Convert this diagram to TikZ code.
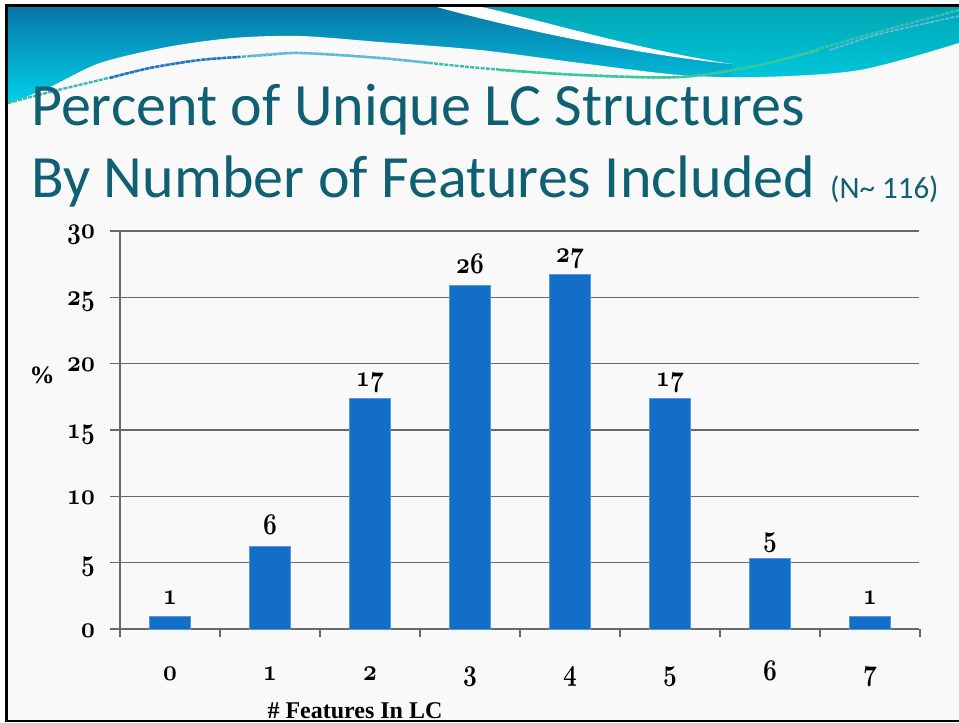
\documentclass[tikz,border=0pt]{standalone}
\usepackage{fontspec}
\newfontfamily\titlefont{Carlito}
\newfontfamily\labelfont{Liberation Serif}
\font\numfontraw=cmmib10 at 24pt
\newcommand\numtxt[1]{\scalebox{1.0}[1.25]{\numfontraw #1}}
\definecolor{titleteal}{RGB}{16,96,116}
\definecolor{barblue}{RGB}{18,110,198}
\definecolor{baredge}{RGB}{90,150,220}
\definecolor{axisgray}{RGB}{105,105,105}
\definecolor{slidebg}{RGB}{249,249,249}
\definecolor{bandtop}{RGB}{8,118,168}
\definecolor{bandbot}{RGB}{0,216,236}
\definecolor{tealtop}{RGB}{0,168,180}
\definecolor{tealmid}{RGB}{0,152,212}
\definecolor{tealbot}{RGB}{0,200,222}
\definecolor{sparkA}{RGB}{60,190,175}
\definecolor{sparkB}{RGB}{45,110,205}
\definecolor{sparkC}{RGB}{50,205,150}
\definecolor{sparkD}{RGB}{110,185,230}

\begin{document}
\begin{tikzpicture}[x=1pt,y=-1pt,
  gridline/.style={draw=axisgray,line width=1.4pt},
  databar/.style={fill=barblue,draw=baredge,line width=0.6pt},
  numlab/.style={anchor=base,inner sep=0pt},
  ylab/.style={anchor=base east,inner sep=0pt},
  titletext/.style={anchor=base west,inner sep=0pt,text=titleteal},
  spark/.style={line width=2.4pt,dash pattern=on 4pt off 1.2pt}]

\useasboundingbox (0,0) rectangle (959,723);
\fill[white] (0,0) rectangle (959,723);
\fill[slidebg] (6,6) rectangle (959,721);

% header band: left blue part
\shade[top color=bandtop,bottom color=bandbot] (8,7) rectangle (959,110);
% header band: teal part right of the white streak
\shade[top color=tealtop,middle color=tealmid,bottom color=tealbot]
  (482,7) -- (959,7) -- (959,82) -- (732,82) -- (732,64)
  .. controls (640,50) and (540,20) .. (482,7) -- cycle;
% white streak
\fill[white] (437,7) .. controls (520,30) and (640,55) .. (732,64)
  .. controls (640,50) and (540,20) .. (482,7) -- cycle;
% light slide area under the wave
\fill[slidebg] plot[smooth] coordinates {(8,104) (50,87) (100,63) (167,47)
  (233,38) (300,36) (380,42) (480,50) (580,63) (680,75) (760,77) (860,70) (959,43)}
  -- (959,721) -- (8,721) -- cycle;

% sparkle lines along the wave
\draw[spark,sparkA] plot[smooth] coordinates {(8,103) (50,92) (100,80) (150,68)
  (200,60) (267,55) (300,53) (380,58) (480,68) (580,75) (680,77) (760,65) (860,37) (959,10)};
\draw[spark,sparkB] plot[smooth] coordinates {(110,78) (150,68) (200,60) (240,57)};
\draw[spark,sparkD] plot[smooth] coordinates {(250,56) (300,53) (380,58) (430,63)};
\draw[spark,sparkC] plot[smooth] coordinates {(500,70) (580,75) (680,77) (760,65) (820,50)};
\draw[spark,sparkD,line width=1.6pt] plot[smooth] coordinates {(830,50) (880,34) (959,16)};

% frame
\draw[black,line width=3pt] (6.5,4) -- (6.5,721);
\draw[black,line width=3pt] (5,5.5) -- (959,5.5);
\draw[black,line width=2pt] (5,721) -- (959,721);

% title
\node[titletext,font=\titlefont\fontsize{60}{72}\selectfont] (t1) at (31,125)
  {Percent of Unique LC Structures};
\node[titletext,font=\titlefont\fontsize{60}{72}\selectfont] (t2) at (31,197)
  {By Number of Features Included};
\node[titletext,font=\titlefont\fontsize{31}{36}\selectfont] (tn) at (830,198)
  {(N\char`~\ 116)};

% grid lines and y labels
\foreach \v [count=\k from 0] in {0,5,10,15,20,25,30} {
  \pgfmathsetmacro\gy{629-13.267*\v}
  \draw[gridline] (110,\gy) -- (919,\gy);
  \node[ylab] (y\k) at (95,\gy+8) {\numtxt{\v}};
}
% y axis and x ticks
\draw[gridline] (120,231) -- (120,637);
\foreach \i in {1,...,8} {
  \draw[gridline] (120+100*\i,629) -- (120+100*\i,637);
}

% bars with value labels and category labels
\foreach \i/\v/\lab in {0/0.95/1,1/6.2/6,2/17.4/17,3/25.9/26,4/26.75/27,5/17.4/17,6/5.3/5,7/0.95/1} {
  \pgfmathsetmacro\top{629-13.267*\v}
  \fill[databar] (149.5+100*\i,629) rectangle (190.5+100*\i,\top);
  \node[numlab] (v\i) at (170+100*\i,\top-12) {\numtxt{\lab}};
  \node[numlab] (c\i) at (170+100*\i,680) {\numtxt{\i}};
}

% axis titles
\node[anchor=base,inner sep=0pt,font=\labelfont\fontsize{25}{29}\selectfont\bfseries] (pct) at (42,383) {\%};
\node[anchor=base,inner sep=0pt,font=\labelfont\fontsize{24}{28}\selectfont\bfseries] (xt) at (355,718) {\# Features In LC};
\end{tikzpicture}
\end{document}
